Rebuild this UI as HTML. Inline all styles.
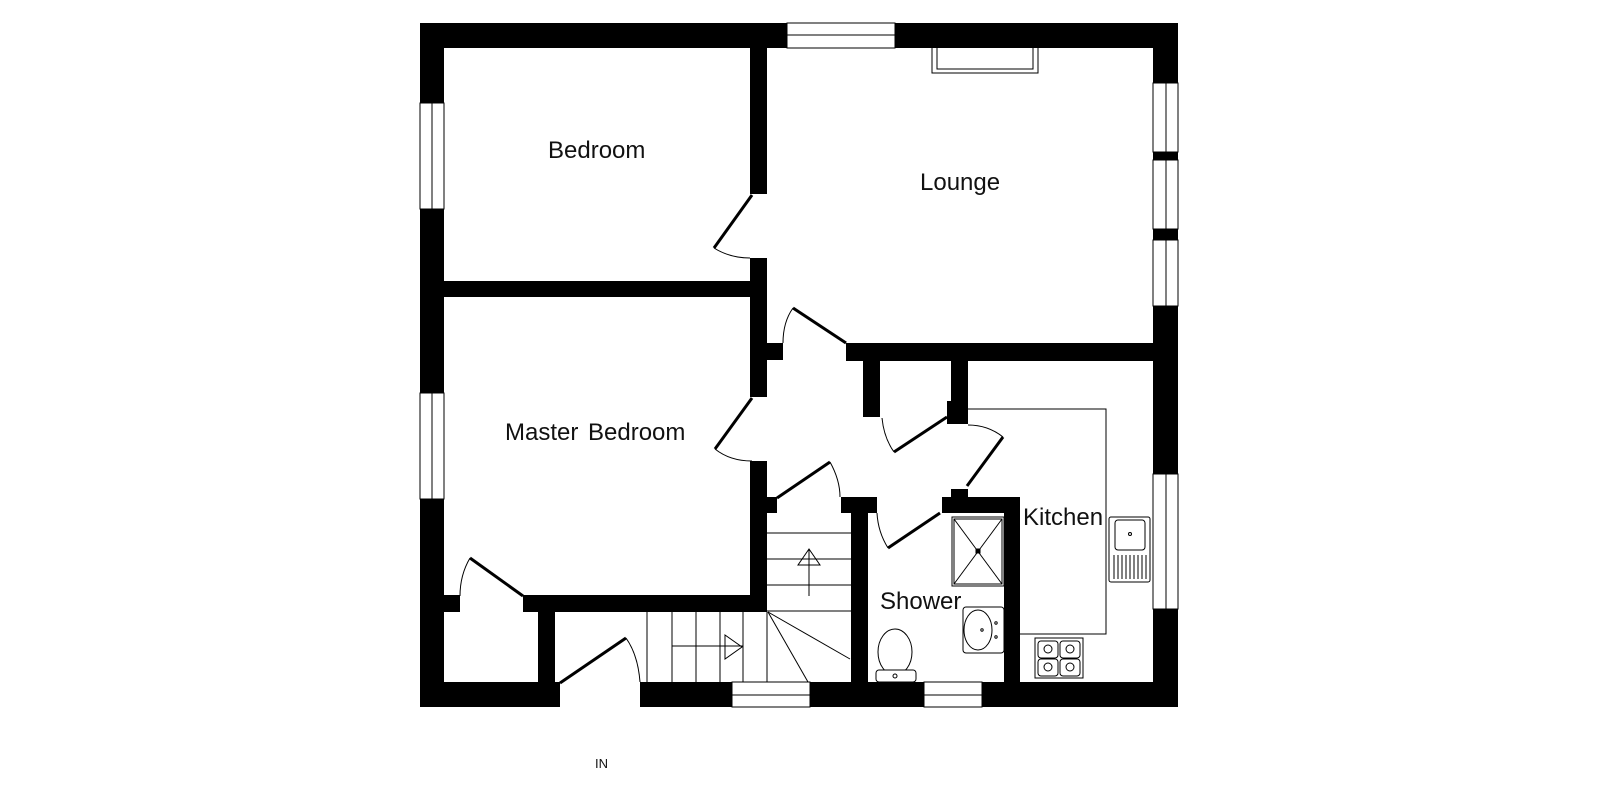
<!DOCTYPE html>
<html><head><meta charset="utf-8"><style>html,body{margin:0;padding:0;background:#fff}svg{display:block}text{font-family:"Liberation Sans",sans-serif;fill:#111}</style></head>
<body>
<svg width="1600" height="800" viewBox="0 0 1600 800" xmlns="http://www.w3.org/2000/svg">
<g fill="#000">
<!-- outer walls -->
<rect x="420" y="23" width="758" height="25"/>
<rect x="420" y="23" width="24" height="684"/>
<rect x="1153" y="23" width="25" height="684"/>
<rect x="420" y="682" width="140" height="25"/>
<rect x="640" y="682" width="538" height="25"/>
<!-- bedroom/lounge wall -->
<rect x="750" y="48" width="17" height="146"/>
<rect x="750" y="258" width="17" height="139"/>
<rect x="767" y="343" width="16" height="17"/>
<rect x="750" y="461" width="17" height="151"/>
<rect x="767" y="497" width="10" height="16"/>
<!-- bedroom/master wall -->
<rect x="444" y="281" width="306" height="16"/>
<!-- master bottom wall -->
<rect x="523" y="595" width="244" height="17"/>
<rect x="444" y="595" width="16" height="17"/>
<rect x="538" y="612" width="17" height="70"/>
<!-- lounge bottom wall -->
<rect x="846" y="343" width="307" height="18"/>
<!-- cupboard walls -->
<rect x="863" y="361" width="17" height="56"/>
<rect x="951" y="361" width="17" height="63"/>
<rect x="947" y="401" width="6" height="23"/>
<!-- shower walls -->
<rect x="942" y="497" width="78" height="16"/>
<rect x="951" y="489" width="17" height="10"/>
<rect x="1004" y="497" width="16" height="185"/>
<rect x="851" y="497" width="17" height="185"/>
<rect x="841" y="497" width="36" height="16"/>
</g>
<g fill="#fff" stroke="#000" stroke-width="1">
<!-- windows -->
<rect x="787" y="23" width="108" height="25"/><line x1="787" y1="35" x2="895" y2="35"/>
<rect x="420" y="103" width="24" height="106"/><line x1="432" y1="103" x2="432" y2="209"/>
<rect x="420" y="393" width="24" height="106"/><line x1="432" y1="393" x2="432" y2="499"/>
<rect x="1153" y="83" width="25" height="69"/><line x1="1166" y1="83" x2="1166" y2="152"/>
<rect x="1153" y="160" width="25" height="69"/><line x1="1166" y1="160" x2="1166" y2="229"/>
<rect x="1153" y="240" width="25" height="66"/><line x1="1166" y1="240" x2="1166" y2="306"/>
<rect x="1153" y="474" width="25" height="135"/><line x1="1166" y1="474" x2="1166" y2="609"/>
<rect x="732" y="682" width="78" height="25"/><line x1="732" y1="695" x2="810" y2="695"/>
<rect x="924" y="682" width="58" height="25"/><line x1="924" y1="695" x2="982" y2="695"/>
<!-- fireplace -->
<rect x="932" y="47" width="106" height="26" fill="none"/>
<rect x="937" y="47" width="96" height="22" fill="none"/>
</g>
<!-- doors -->
<g stroke="#000" stroke-width="3" fill="none">
<line x1="752" y1="195" x2="714" y2="248"/>
<line x1="752" y1="398" x2="715" y2="449"/>
<line x1="777" y1="498" x2="830" y2="462"/>
<line x1="846" y1="343" x2="793" y2="308"/>
<line x1="947" y1="417" x2="894" y2="452"/>
<line x1="967" y1="486" x2="1003" y2="437"/>
<line x1="940" y1="513" x2="888" y2="548"/>
<line x1="523" y1="596" x2="470" y2="558"/>
<line x1="560" y1="683" x2="626" y2="638"/>
</g>
<g stroke="#000" stroke-width="1" fill="none">
<path d="M714 248 Q730 258 750 258"/>
<path d="M715 449 Q730 461 752 461"/>
<path d="M830 462 Q840 480 840 497"/>
<path d="M793 308 Q783 322 783 343"/>
<path d="M894 452 Q884 438 882 418"/>
<path d="M1003 437 Q988 425 968 425"/>
<path d="M888 548 Q878 532 877 513"/>
<path d="M470 558 Q460 575 460 596"/>
<path d="M626 638 Q638 655 640 682"/>
<!-- stairs -->
<line x1="647" y1="612" x2="647" y2="682"/>
<line x1="672" y1="612" x2="672" y2="682"/>
<line x1="696" y1="612" x2="696" y2="682"/>
<line x1="720" y1="612" x2="720" y2="682"/>
<line x1="743" y1="612" x2="743" y2="682"/>
<line x1="767" y1="612" x2="767" y2="682"/>
<line x1="672" y1="646" x2="743" y2="646"/>
<polygon points="725,635 742,647 725,659"/>
<line x1="767" y1="533" x2="851" y2="533"/>
<line x1="767" y1="559" x2="851" y2="559"/>
<line x1="767" y1="585" x2="851" y2="585"/>
<line x1="767" y1="611" x2="851" y2="611"/>
<line x1="768" y1="612" x2="850" y2="659"/>
<line x1="768" y1="612" x2="808" y2="682"/>
<polygon points="809,549 798,565 820,565"/>
<line x1="809" y1="549" x2="809" y2="596"/>
<!-- kitchen counter -->
<polyline points="968,409 1106,409 1106,634 1020,634"/>
<!-- sink -->
<rect x="1109" y="517" width="41" height="65" rx="2"/>
<rect x="1115" y="520" width="30" height="30" rx="3"/>
<circle cx="1130" cy="534" r="1.5"/>
<path d="M1114 555v24M1118 555v24M1122 555v24M1126 555v24M1130 555v24M1134 555v24M1138 555v24M1142 555v24M1146 555v24"/>
<!-- hob -->
<rect x="1035" y="638" width="48" height="40"/>
<rect x="1038" y="641" width="20" height="17" rx="3"/><rect x="1060" y="641" width="20" height="17" rx="3"/>
<rect x="1038" y="659" width="20" height="17" rx="3"/><rect x="1060" y="659" width="20" height="17" rx="3"/>
<circle cx="1048" cy="649" r="4"/><circle cx="1070" cy="649" r="4"/><circle cx="1048" cy="667" r="4"/><circle cx="1070" cy="667" r="4"/>
<!-- shower tray -->
<rect x="952" y="517" width="52" height="69"/>
<rect x="954" y="519" width="48" height="65"/>
<line x1="954" y1="519" x2="1002" y2="584"/><line x1="1002" y1="519" x2="954" y2="584"/>
<rect x="976" y="549" width="4" height="4" fill="#000"/>
<!-- basin -->
<rect x="963" y="607" width="41" height="46" rx="3"/>
<ellipse cx="978" cy="630" rx="14" ry="20"/>
<circle cx="982" cy="630" r="1.2"/><circle cx="996" cy="623" r="1.2"/><circle cx="996" cy="637" r="1.2"/>
<!-- toilet -->
<ellipse cx="895" cy="652" rx="17" ry="23"/>
<rect x="876" y="670" width="40" height="12" rx="3" fill="#fff"/>
<circle cx="895" cy="676" r="2"/>
</g>
<g font-size="24">
<text x="548" y="158">Bedroom</text>
<text x="920" y="190">Lounge</text>
<text x="505" y="440" word-spacing="3">Master Bedroom</text>
<text x="1023" y="525">Kitchen</text>
<text x="880" y="609">Shower</text>
</g>
<text x="595" y="768" font-size="13">IN</text>
</svg>
</body></html>
